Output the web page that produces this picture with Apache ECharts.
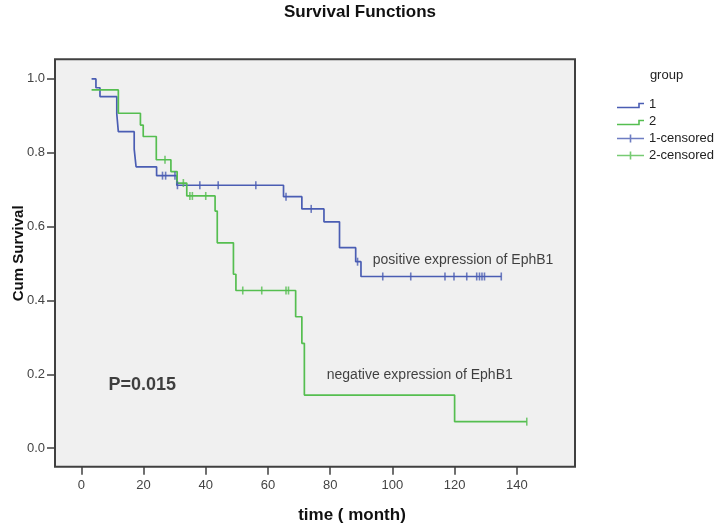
<!DOCTYPE html>
<html>
<head>
<meta charset="utf-8">
<script src="https://cdn.jsdelivr.net/npm/echarts@6/dist/echarts.min.js"></script>
<style>
html,body{margin:0;padding:0;background:#fff;}
#chart{width:720px;height:526px;}
</style>
</head>
<body>
<div id="chart"></div>
<script>
// ---- data ----
const xTicks = [0, 20, 40, 60, 80, 100, 120, 140];
const yTicks = [0, 0.2, 0.4, 0.6, 0.8, 1.0];

// group 1 (positive expression) step points: time, survival after step
const timeG1 = [3.3, 4.7, 6.0, 11.4, 11.9, 17.0, 17.6, 24.2, 30.7, 65.0, 70.9, 78.0, 83.0, 88.2, 89.9, 135.0];
const survG1 = [1.0, 0.976, 0.952, 0.905, 0.857, 0.810, 0.762, 0.738, 0.712, 0.681, 0.648, 0.613, 0.543, 0.505, 0.465, 0.465];
const censG1 = [26.1, 27.1, 30.1, 30.9, 38.1, 44.0, 56.1, 65.8, 73.9, 88.8, 96.9, 105.9, 116.9, 119.8, 123.9, 127.1, 128.0, 128.8, 129.6, 135.0];

// group 2 (negative expression)
const timeG2 = [3.3, 11.9, 19.0, 19.9, 24.1, 28.8, 30.8, 33.9, 43.0, 43.7, 48.9, 49.7, 68.9, 70.9, 71.7, 120.0, 143.2];
const survG2 = [0.970, 0.907, 0.875, 0.844, 0.781, 0.749, 0.718, 0.683, 0.642, 0.556, 0.471, 0.427, 0.356, 0.284, 0.144, 0.072, 0.072];
const censG2 = [26.9, 32.8, 34.9, 35.7, 40.0, 51.9, 58.0, 65.8, 66.6, 143.2];

const legendNames = ['1', '2', '1-censored', '2-censored'];

const noteTexts = ['positive expression of EphB1', 'negative expression of EphB1', 'P=0.015'];
const noteTimes = [93.7, 78.9, 8.7];
const noteSurv = [0.508, 0.197, 0.171];

// ---- helpers ----
function zip(a, b) { return a.map((v, i) => [v, b[i]]); }
function survAt(times, surv, t) {
  let v = surv[0];
  for (let i = 0; i < times.length; i++) { if (times[i] <= t) v = surv[i]; }
  return v;
}

const BLUE = '#4a5db3';
const GREEN = '#55be50';
const FONT = '"Liberation Sans", Arial, sans-serif';

const speck = ' M0,0 L0.01,0 L0.01,0.01 Z M27,10 L26.99,10 L26.99,9.99 Z';
const stepIcon = 'path://M0,7.2 L21.2,7.2 L21.2,3.2 L27,3.2 L27,4.8 L22.8,4.8 L22.8,8.8 L0,8.8 Z' + speck;
const plusIcon = 'path://M0,4.2 L27,4.2 L27,5.8 L0,5.8 Z M12.7,1 L14.3,1 L14.3,9 L12.7,9 Z' + speck;

const chart = echarts.init(document.getElementById('chart'), null, {renderer: 'canvas'});

const noteData = noteTexts.map((txt, i) => {
  const bold = txt.indexOf('P=') === 0;
  return {
    name: txt,
    value: [noteTimes[i], noteSurv[i]],
    label: {
      show: true,
      position: 'right',
      distance: 0,
      formatter: '{b}',
      fontFamily: FONT,
      fontSize: bold ? 18 : 14,
      fontWeight: bold ? 'bold' : 'normal',
      color: '#111'
    }
  };
});

const option = {
  animation: false,
  backgroundColor: '#ffffff',
  textStyle: {fontFamily: FONT},
  title: {
    text: 'Survival Functions',
    left: 'center',
    top: 4,
    padding: 0,
    textStyle: {fontFamily: FONT, fontSize: 17, fontWeight: 'bold', color: '#111'}
  },
  legend: {
    orient: 'vertical',
    left: 612,
    top: 93,
    itemWidth: 27,
    itemHeight: 10,
    itemGap: 4,
    selectedMode: false,
    itemStyle: {borderWidth: 0},
    textStyle: {fontFamily: FONT, fontSize: 13, lineHeight: 13, color: '#222'},
    data: [
      {name: legendNames[0], icon: stepIcon},
      {name: legendNames[1], icon: stepIcon},
      {name: legendNames[2], icon: plusIcon},
      {name: legendNames[3], icon: plusIcon}
    ]
  },
  grid: {
    left: 55, top: 59.3, right: 145, bottom: 59.3,
    show: true,
    backgroundColor: '#f0f0f0',
    borderColor: '#404040',
    borderWidth: 2
  },
  xAxis: {
    type: 'value',
    min: -8.46, max: 158.7,
    axisLine: {show: false, onZero: false},
    splitLine: {show: false},
    axisTick: {show: true, inside: false, customValues: xTicks, length: 8, lineStyle: {color: '#404040', width: 1.5}},
    axisLabel: {customValues: xTicks, margin: 12, fontFamily: FONT, fontSize: 13, color: '#444'}
  },
  yAxis: {
    type: 'value',
    min: -0.05, max: 1.053,
    axisLine: {show: false, onZero: false},
    splitLine: {show: false},
    axisTick: {show: true, inside: false, customValues: yTicks, length: 8, lineStyle: {color: '#404040', width: 1.5}},
    axisLabel: {customValues: yTicks, margin: 10, fontFamily: FONT, fontSize: 13, color: '#444',
      formatter: v => v.toFixed(1)}
  },
  graphic: [
    {type: 'text', x: 352, y: 515, style: {text: 'time ( month)', fontFamily: FONT, fontSize: 17, fontWeight: 'bold',
      fill: '#111', align: 'center', verticalAlign: 'middle'}},
    {type: 'text', x: 18.7, y: 253.3, rotation: Math.PI / 2, style: {text: 'Cum Survival', fontFamily: FONT, fontSize: 15,
      fontWeight: 'bold', fill: '#111', align: 'center', verticalAlign: 'middle'}},
    {type: 'text', x: 666.5, y: 75, style: {text: 'group', fontFamily: FONT, fontSize: 13, fill: '#222',
      align: 'center', verticalAlign: 'middle'}}
  ],
  series: [
    {name: legendNames[0], type: 'line', step: 'end', data: zip(timeG1, survG1), showSymbol: false,
      lineStyle: {color: BLUE, width: 1.7}, itemStyle: {color: BLUE}, z: 3},
    {name: legendNames[1], type: 'line', step: 'end', data: zip(timeG2, survG2), showSymbol: false,
      lineStyle: {color: GREEN, width: 1.7}, itemStyle: {color: GREEN}, z: 4},
    {name: legendNames[2], type: 'scatter', data: censG1.map(t => [t, survAt(timeG1, survG1, t)]),
      symbol: 'rect', symbolSize: [1.6, 8], itemStyle: {color: BLUE}, z: 5},
    {name: legendNames[3], type: 'scatter', data: censG2.map(t => [t, survAt(timeG2, survG2, t)]),
      symbol: 'rect', symbolSize: [1.6, 8], itemStyle: {color: GREEN}, z: 6},
    {name: 'notes', type: 'scatter', data: noteData, symbolSize: 0, silent: true, z: 7}
  ]
};

chart.setOption(option);
</script>
</body>
</html>
